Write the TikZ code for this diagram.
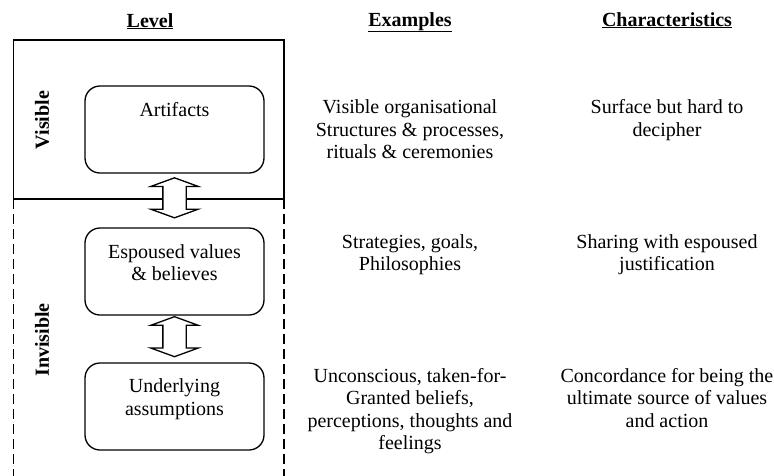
\documentclass[tikz,border=0pt]{standalone}
\usepackage{fontspec}
\setmainfont{Liberation Serif}
\usetikzlibrary{positioning,calc,shapes.arrows}

\begin{document}
\begin{tikzpicture}[
    x=1pt, y=-1pt,
    font=\fontsize{20}{22.5}\selectfont,
    level/.style={draw, line width=1.3pt, rounded corners=15pt,
      minimum width=179pt, minimum height=87pt},
    boxtext/.style={inner sep=0pt, align=center},
    coltext/.style={inner sep=0pt, align=center, anchor=north},
    head/.style={inner sep=0pt, anchor=base, font=\fontsize{20}{22.5}\selectfont\bfseries},
    side/.style={inner sep=0pt, rotate=90, font=\fontsize{20}{22.5}\selectfont\bfseries},
    updown/.style={double arrow, draw, fill=white, line width=1.3pt, rotate=90,
      minimum height=40pt, inner xsep=0pt, inner ysep=11pt,
      double arrow head extend=12pt, double arrow tip angle=140}
  ]
  \useasboundingbox (0,0) rectangle (774,475);

  % заголовки
  \node[head] (hlev) at (150,27) {\underline{Level}};
  \node[head] (hex)  at (410,26) {\underline{Examples}};
  \node[head] (hch)  at (667,26) {\underline{Characteristics}};

  % рамки: видимый и невидимый уровни
  \draw[line width=1.3pt] (13.5,40) rectangle (284,199);
  \draw[line width=1.3pt, dash pattern=on 10pt off 5pt]
    (13.5,199) -- (13.5,476) (284,199) -- (284,476);
  \node[side] (vis) at (42,120) {Visible};
  \node[side] (invis) at (42,340) {Invisible};

  % уровни
  \node[level] (art) at (174.5,129.5) {};
  \node[boxtext, below=17pt of art.north] (artt) {Artifacts};
  \node[level] (esp) at (174.5,271.5) {};
  \node[boxtext, below=17pt of esp.north] (espt) {Espoused values\\\& believes};
  \node[level] (und) at (174.5,406.5) {};
  \node[boxtext, below=16.5pt of und.north] (undt) {Underlying\\assumptions};

  % двойные стрелки
  \node[updown] (a1) at ($(art.south)!.45!(esp.north)$) {};
  \node[updown] (a2) at ($(esp.south)!.45!(und.north)$) {};

  % примеры
  \node[coltext] (ex1) at (410,99.5) {Visible organisational\\Structures \& processes,\\rituals \& ceremonies};
  \node[coltext] (ex2) at (410,234) {Strategies, goals,\\Philosophies};
  \node[coltext] (ex3) at (410,368) {Unconscious, taken-for-\\Granted beliefs,\\perceptions, thoughts and\\feelings};

  % характеристики
  \node[coltext] (ch1) at (667,99.5) {Surface but hard to\\decipher};
  \node[coltext] (ch2) at (667,234) {Sharing with espoused\\justification};
  \node[coltext] (ch3) at (667,368) {Concordance for being the\\ultimate source of values\\and action};
\end{tikzpicture}
\end{document}
